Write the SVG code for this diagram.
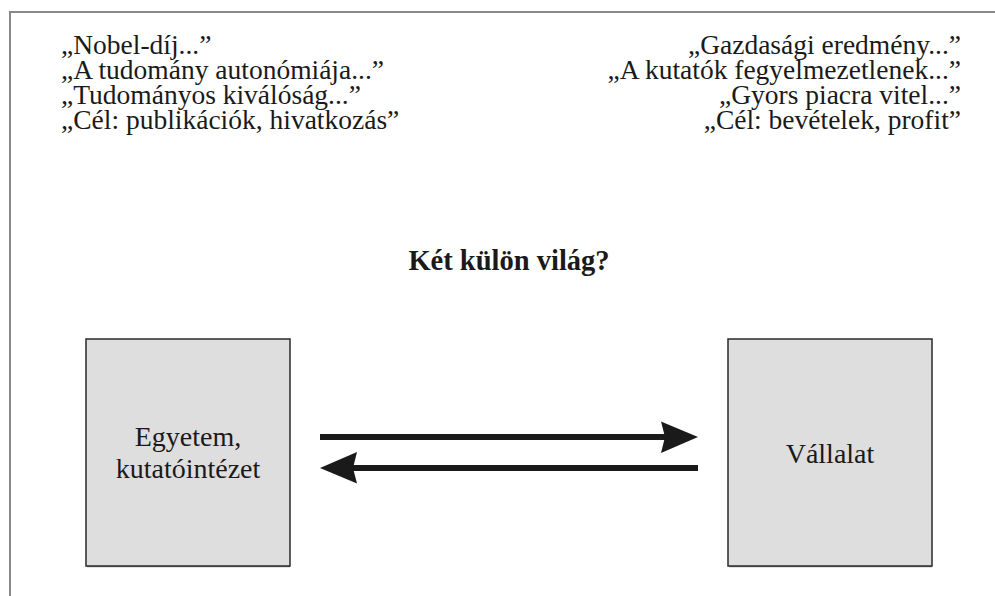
<svg xmlns="http://www.w3.org/2000/svg" width="995" height="596" viewBox="0 0 995 596">
<style>
.q{font-family:"Liberation Serif","Times New Roman",serif;font-size:27.5px;fill:#1a1a1a}
.r{text-anchor:end}
.t{font-family:"Liberation Serif","Times New Roman",serif;font-size:28.5px;font-weight:bold;fill:#1a1a1a;text-anchor:middle}
.lbl{font-family:"Liberation Serif","Times New Roman",serif;font-size:28px;fill:#1a1a1a;text-anchor:middle}
.box{fill:#dedede;stroke:#2a2a2a;stroke-width:1.5}
.frame{stroke:#888;stroke-width:2;fill:none}
.ln{stroke:#1a1a1a;stroke-width:6}
.hd{fill:#1a1a1a}
</style>
<rect width="995" height="596" fill="#fff"/>
<path class="frame" d="M10,596 V12 H995"/>
<g id="left-quotes">
<text class="q" x="61" y="54">„Nobel-díj...”</text>
<text class="q" x="61" y="79">„A tudomány autonómiája...”</text>
<text class="q" x="61" y="104">„Tudományos kiválóság...”</text>
<text class="q" x="61" y="129">„Cél: publikációk, hivatkozás”</text>
</g>
<g id="right-quotes">
<text class="q r" x="961" y="54">„Gazdasági eredmény...”</text>
<text class="q r" x="961" y="79">„A kutatók fegyelmezetlenek...”</text>
<text class="q r" x="961" y="104">„Gyors piacra vitel...”</text>
<text class="q r" x="961" y="129">„Cél: bevételek, profit”</text>
</g>
<g id="title">
<text class="t" x="509" y="270">Két külön világ?</text>
</g>
<g id="egyetem">
<line x1="87" y1="566.5" x2="290" y2="566.5" stroke="#888" stroke-width="1.5"/>
<rect class="box" x="86" y="339" width="204" height="227"/>
<text class="lbl" x="188" y="446">Egyetem,</text>
<text class="lbl" x="188" y="478">kutatóintézet</text>
</g>
<g id="vallalat">
<line x1="729" y1="566.5" x2="932" y2="566.5" stroke="#888" stroke-width="1.5"/>
<rect class="box" x="728" y="339" width="204" height="227"/>
<text class="lbl" x="830" y="463">Vállalat</text>
</g>
<g id="connectors">
<line class="ln" x1="320" y1="437" x2="668" y2="437"/>
<path class="hd" d="M698,437 L661,421.5 L665,437 L661,453 Z"/>
<line class="ln" x1="698" y1="468" x2="350" y2="468"/>
<path class="hd" d="M320,468 L357,452 L353,468 L357,483.5 Z"/>
</g>
</svg>
